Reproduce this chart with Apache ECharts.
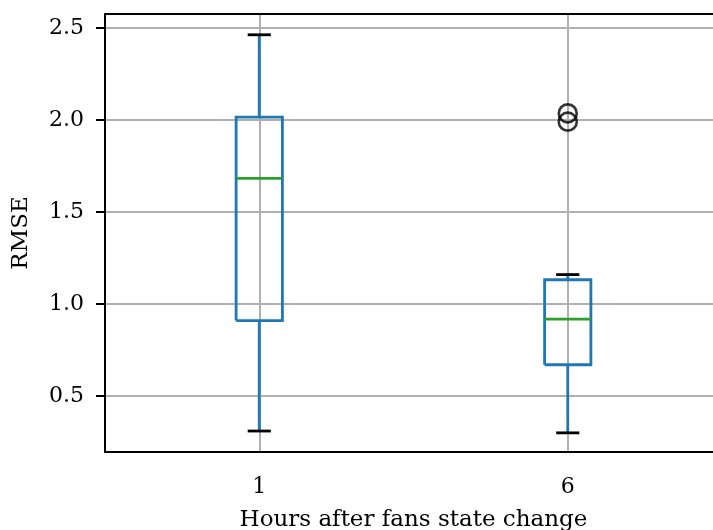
<!DOCTYPE html>
<html>
<head>
<meta charset="utf-8">
<script src="https://cdn.jsdelivr.net/npm/echarts@6/dist/echarts.min.js"></script>
<style>
html, body { margin: 0; padding: 0; background: #fff; }
#chart { width: 713px; height: 530px; }
</style>
</head>
<body>
<div id="chart"></div>
<script>
// values
var hours = ['1', '6'];
var whiskerLow = [0.31, 0.30];
var quart1 = [0.91, 0.67];
var medians = [1.683, 0.918];
var quart3 = [2.016, 1.132];
var whiskerHigh = [2.463, 1.160];
var outliers = [[1, 2.036], [1, 1.991]];
var yTicks = [0.5, 1.0, 1.5, 2.0, 2.5];

var blue = '#1f77b4';
var green = '#2ca02c';
var font = 'DejaVu Serif';

var boxData = hours.map(function (h, i) {
    return [i, whiskerLow[i], quart1[i], medians[i], quart3[i], whiskerHigh[i]];
});

function renderBox(params, api) {
    var x = api.value(0);
    var lo = api.coord([x, api.value(1)]);
    var q1 = api.coord([x, api.value(2)]);
    var md = api.coord([x, api.value(3)]);
    var q3 = api.coord([x, api.value(4)]);
    var hi = api.coord([x, api.value(5)]);
    var band = api.size([1, 0])[0];
    var hw = band * 0.075;
    var cw = band * 0.0375;
    var cx = lo[0];
    var lw = 2.8;
    return {
        type: 'group',
        children: [
            { type: 'line', shape: { x1: cx, y1: lo[1], x2: cx, y2: q1[1] }, style: { stroke: blue, lineWidth: lw } },
            { type: 'line', shape: { x1: cx, y1: q3[1], x2: cx, y2: hi[1] }, style: { stroke: blue, lineWidth: lw } },
            { type: 'line', shape: { x1: cx - cw, y1: lo[1], x2: cx + cw, y2: lo[1] }, style: { stroke: '#000', lineWidth: lw } },
            { type: 'line', shape: { x1: cx - cw, y1: hi[1], x2: cx + cw, y2: hi[1] }, style: { stroke: '#000', lineWidth: lw } },
            { type: 'polyline', shape: { points: [[cx - hw, q1[1]], [cx - hw, q3[1]], [cx + hw, q3[1]], [cx + hw, q1[1]], [cx - hw, q1[1]]] }, style: { fill: null, stroke: blue, lineWidth: lw } },
            { type: 'line', shape: { x1: cx - hw, y1: md[1], x2: cx + hw, y2: md[1] }, style: { stroke: green, lineWidth: lw } }
        ]
    };
}

var chart = echarts.init(document.getElementById('chart'));
var option = {
    animation: false,
    backgroundColor: '#fff',
    grid: {
        left: 105,
        right: -9,
        top: 14,
        bottom: 78,
        show: false,
        outerBoundsMode: 'none'
    },
    xAxis: [
        {
            type: 'category',
            data: hours,
            boundaryGap: true,
            name: 'Hours after fans state change',
            nameLocation: 'middle',
            nameGap: 57,
            nameTextStyle: { fontFamily: font, fontSize: 23, color: '#000' },
            axisLine: { lineStyle: { color: '#000', width: 2 } },
            axisTick: { alignWithLabel: true, length: 9, lineStyle: { color: '#000', width: 2 } },
            axisLabel: { fontFamily: font, fontSize: 22, color: '#000', margin: 24 },
            splitLine: { show: true, alignWithLabel: true, lineStyle: { color: '#b0b0b0', width: 2 } }
        },
        {
            type: 'category',
            data: hours,
            position: 'top',
            axisLine: { show: true, lineStyle: { color: '#000', width: 2 } },
            axisTick: { show: false },
            axisLabel: { show: false },
            splitLine: { show: false }
        }
    ],
    yAxis: {
        type: 'value',
        min: 0.196,
        max: 2.576,
        name: 'RMSE',
        nameLocation: 'middle',
        nameGap: 72,
        nameTextStyle: { fontFamily: font, fontSize: 23, color: '#000' },
        axisLine: { show: true, lineStyle: { color: '#000', width: 2 } },
        axisTick: { show: true, length: 9, customValues: yTicks, lineStyle: { color: '#000', width: 2 } },
        axisLabel: {
            fontFamily: font, fontSize: 22, color: '#000', margin: 21,
            customValues: yTicks,
            formatter: function (v) { return v.toFixed(1); }
        },
        splitLine: { show: true, lineStyle: { color: '#b0b0b0', width: 2 } }
    },
    series: [
        {
            type: 'custom',
            renderItem: renderBox,
            encode: { x: 0, y: [1, 2, 3, 4, 5] },
            data: boxData,
            z: 3
        },
        {
            type: 'scatter',
            data: outliers,
            symbol: 'circle',
            symbolSize: 18,
            itemStyle: { color: 'transparent', borderColor: '#000', borderWidth: 2.6 },
            z: 4
        }
    ]
};
chart.setOption(option);
</script>
</body>
</html>
